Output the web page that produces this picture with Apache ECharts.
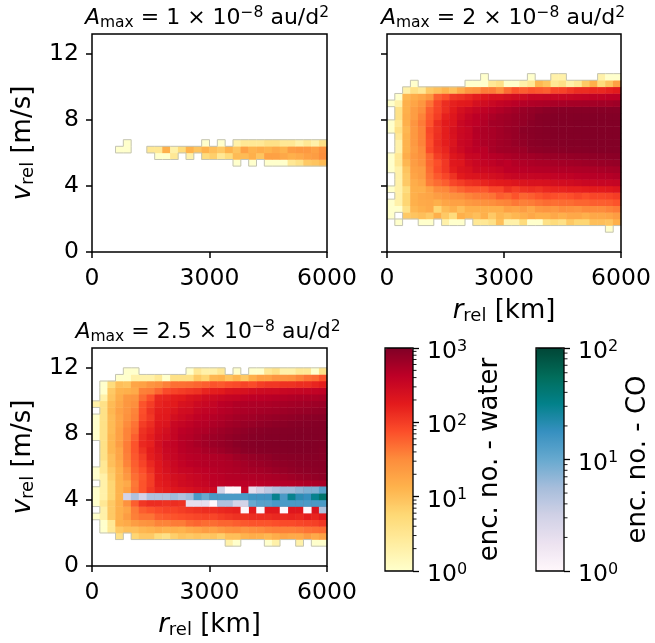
<!DOCTYPE html>
<html><head><meta charset="utf-8">
<style>html,body{margin:0;padding:0;background:#fff}#c{width:655px;height:643px}</style>
<script src="https://cdn.jsdelivr.net/npm/echarts@6/dist/echarts.min.js"></script>
</head><body><div id="c"></div>
<script>
// Tick labels / bins
const rTicks = [0, 3000, 6000];
const vTicks = [0, 4, 8, 12];
const rMax = 6000, vMax = 13.2, nCols = 30, nRows = 33;
const waterBarMajor = [1, 10, 100, 1000];
const waterBarMinor = [2,3,4,5,6,7,8,9,20,30,40,50,60,70,80,90,200,300,400,500,600,700,800,900];
const coBarMajor = [1, 10, 100];
const coBarMinor = [2,3,4,5,6,7,8,9,20,30,40,50,60,70,80,90];
// colour ramps
const waterRamp = ['#ffffcc','#ffeda0','#fed976','#feb24c','#fd8d3c','#fc4e2a','#e31a1c','#bd0026','#800026'];
const coRamp = ['#fff7fb','#ece2f0','#d0d1e6','#a6bddb','#67a9cf','#3690c0','#02818a','#016c59','#014636'];

// Encounter counts per cell; each list is a row of 30 r bins, first listed row = lowest v bin
const water1Start = 13;
const water1 = [
 [0,0,0,0,0,0,0,0,0,0,0,0,0,0,0,0,0,0,1,0,1,0,1,1,1,3,4,8,9,11],
 [0,0,0,0,0,0,0,0,1,1,3,0,2,0,5,7,3,5,11,11,14,9,20,20,17,14,16,20,22,30],
 [0,0,0,1,1,0,0,3,3,14,2,5,13,9,13,10,8,13,9,20,13,15,13,16,13,22,24,24,20,28],
 [0,0,0,0,1,0,0,0,0,0,0,0,0,0,1,0,1,0,2,3,3,3,4,4,3,3,2,3,2,4]
];
const water2Start = 3;
const water2 = [
 [0,0,0,0,0,0,0,0,0,0,0,0,0,0,0,0,0,0,0,0,0,0,0,0,0,0,0,0,1,0],
 [0,1,0,0,1,1,0,2,1,1,0,3,3,4,10,2,2,5,1,1,4,5,4,8,6,6,10,10,9,14],
 [1,0,8,9,10,8,14,8,5,14,12,10,14,8,12,10,12,14,17,14,14,17,14,17,17,14,17,17,18,22],
 [1,1,4,12,14,16,6,11,14,10,14,14,14,14,14,20,18,22,17,24,26,24,30,28,26,32,32,32,36,40],
 [1,2,6,14,16,17,14,18,20,20,24,26,28,30,34,36,42,38,40,45,50,48,50,50,55,55,60,60,62,70],
 [0,2,6,14,17,18,22,25,28,30,36,40,42,45,60,55,70,55,60,70,80,75,70,75,85,75,85,85,90,100],
 [1,2,5,14,14,20,32,34,45,55,65,65,65,85,85,120,100,120,130,120,140,150,150,160,160,170,180,180,190,210],
 [0,2,8,15,18,40,50,60,85,100,120,130,150,170,180,190,210,220,230,230,240,260,270,280,300,320,330,340,340,360],
 [0,2,8,18,22,45,65,85,120,180,210,220,240,260,280,320,340,350,350,360,370,380,390,400,430,440,450,460,470,500],
 [1,2,9,20,22,50,80,110,170,220,240,300,310,330,360,420,430,440,460,470,480,490,500,510,520,530,540,560,580,600],
 [1,3,12,22,28,55,75,110,190,200,280,330,370,400,450,420,480,500,530,550,560,580,600,620,640,660,680,700,720,740],
 [1,3,15,24,30,55,100,130,200,240,330,340,420,450,480,520,560,600,620,650,680,700,720,740,760,780,800,820,840,860],
 [0,2,13,22,32,80,120,150,240,300,380,430,440,560,620,640,650,680,800,820,840,860,880,900,910,920,930,940,950,950],
 [0,2,13,24,36,75,130,170,220,320,360,450,520,560,620,650,720,780,860,880,900,920,930,940,950,960,960,960,960,960],
 [0,3,13,24,36,80,125,170,230,315,355,460,525,560,620,665,720,815,870,900,920,940,950,960,960,970,970,970,970,970],
 [1,4,12,24,36,85,120,170,240,310,350,470,530,560,620,680,720,850,880,900,930,950,960,960,970,970,970,970,970,970],
 [1,3,14,26,40,70,130,180,210,320,380,420,500,600,620,660,700,760,850,900,930,950,960,960,970,970,970,970,970,970],
 [0,4,15,22,36,65,100,160,200,280,360,430,460,540,600,640,680,740,800,900,920,940,950,950,960,960,960,960,960,960],
 [0,4,14,22,30,60,90,130,180,250,300,350,400,450,500,560,620,700,750,800,850,880,900,900,900,900,900,900,900,900],
 [1,2,14,18,25,45,85,130,160,180,190,250,280,320,370,400,440,470,500,520,540,560,570,580,590,600,600,620,620,650],
 [0,1,12,15,18,25,60,75,110,120,140,170,200,230,230,260,280,290,340,340,360,340,340,350,370,380,400,400,420,430],
 [0,0,2,4,3,8,10,13,10,16,25,28,40,40,30,50,70,60,70,65,60,85,90,110,130,130,140,140,160,180],
 [0,0,0,1,0,0,0,0,0,0,1,1,1,3,4,1,1,2,3,12,9,3,4,2,3,8,14,5,9,20],
 [0,0,0,0,0,0,0,0,0,0,0,0,1,0,0,0,0,0,1,0,0,2,2,0,0,0,0,2,1,1]
];
const water3Start = 3;
const water3 = [
 [0,0,0,0,0,0,0,0,0,0,0,0,0,0,0,0,0,2,1,0,0,0,1,2,0,0,2,0,1,1],
 [0,0,0,4,0,6,8,8,5,4,7,9,8,9,8,9,7,10,10,13,15,14,12,15,18,16,16,22,16,20],
 [0,1,3,8,10,10,12,13,15,13,14,13,16,18,22,20,24,28,30,26,30,32,36,38,38,38,40,45,48,50],
 [0,1,3,14,16,22,26,28,36,36,40,40,50,55,50,50,55,55,60,65,70,70,70,75,80,80,85,90,95,110],
 [1,2,8,14,22,38,45,45,60,65,70,75,80,85,90,85,100,110,120,120,130,130,130,140,140,150,140,170,150,190],
 [0,2,8,14,18,40,60,70,80,90,90,100,110,120,130,130,140,150,160,170,180,180,190,190,195,200,200,210,220,230],
 [1,3,8,14,28,60,110,130,130,120,130,120,150,160,170,180,190,200,210,220,230,240,250,260,270,280,290,300,310,320],
 [1,2,6,13,20,60,90,120,150,170,180,200,220,240,260,270,280,290,300,310,320,330,340,350,360,370,380,390,400,410],
 [1,2,6,13,20,45,70,110,150,170,200,220,240,270,290,300,310,320,330,340,350,360,370,380,390,400,410,420,430,440],
 [0,2,6,13,16,42,70,100,170,190,240,280,300,330,350,400,400,420,420,430,430,440,450,460,470,480,500,520,540,560],
 [1,2,7,14,24,48,65,100,180,210,260,280,320,340,380,420,440,470,480,500,500,520,540,560,600,640,680,720,760,800],
 [1,3,8,14,28,55,75,120,190,240,300,340,360,400,420,450,480,500,520,560,580,600,640,680,720,760,800,820,840,860],
 [0,3,10,16,36,60,90,140,200,260,320,380,430,450,470,490,500,520,560,600,650,680,720,760,800,820,850,870,880,880],
 [0,4,10,18,38,65,100,170,220,300,340,400,440,460,480,500,520,560,640,680,720,760,800,850,870,880,890,900,900,880],
 [0,4,12,18,40,70,120,180,240,320,360,440,480,500,560,600,650,720,780,850,880,900,920,930,950,960,960,960,950,900],
 [0,4,12,22,40,70,140,160,260,340,380,450,500,560,620,680,720,780,850,900,920,940,950,960,970,970,970,970,960,950],
 [1,4,12,20,36,60,130,170,240,280,360,450,480,540,600,660,700,760,820,860,900,920,940,950,960,970,970,970,970,960],
 [1,4,11,20,36,50,120,150,220,260,350,420,450,500,520,600,650,700,750,800,850,880,900,920,940,950,960,960,960,960],
 [1,4,11,18,32,45,100,130,200,220,320,360,400,450,470,520,560,620,650,700,720,760,800,830,860,890,900,920,930,950],
 [1,4,11,18,28,38,80,110,180,190,260,300,340,400,430,470,510,550,600,620,640,680,700,730,760,790,820,850,870,880],
 [0,4,12,20,26,36,75,120,170,180,220,270,280,340,380,400,450,480,520,540,560,580,600,620,650,680,700,720,750,780],
 [2,4,11,17,25,30,70,100,150,170,180,230,250,300,330,360,430,450,500,510,520,530,540,560,580,600,620,640,660,680],
 [0,2,9,15,24,26,50,75,140,150,170,180,220,240,280,300,330,360,370,400,420,430,440,460,480,500,520,530,540,560],
 [0,1,8,13,14,16,38,40,55,80,90,100,110,120,150,170,180,220,230,240,270,290,300,300,330,340,350,360,380,400],
 [0,1,5,10,9,18,20,26,30,38,48,48,50,55,60,70,65,75,80,90,80,100,110,110,120,120,130,130,150,170],
 [0,0,0,1,1,2,2,2,3,1,4,4,4,8,6,12,13,9,12,8,14,20,20,26,26,28,36,45,50,70],
 [0,0,0,0,1,1,0,0,0,0,0,0,1,3,2,2,3,0,1,0,1,1,3,4,2,2,3,3,1,4]
];
const co3Start = 8;
const co3 = [
 [0,0,0,0,0,0,0,0,0,0,0,0,0,0,0,0,0,0,0,1,0,1,0,0,1,0,0,1,0,5],
 [0,0,0,0,0,0,0,0,0,0,0,0,2,2,2,1,5,5,3,3,10,12,12,14,14,14,14,14,14,14],
 [0,0,0,0,3,5,3,5,5,5,6,5,6,14,10,14,14,14,14,14,16,16,16,30,14,30,20,18,30,45],
 [0,0,0,0,0,0,0,0,0,0,0,0,0,0,0,0,3,1,1,0,2,3,4,5,6,6,7,8,8,12]
];

const FONT = 'DejaVu Sans';
const LBL = 23.5;
const NAME = 26;
const toCells = (rows, start) => {
  const out = [];
  rows.forEach((row, i) => row.forEach((v, c) => { if (v > 0) out.push([c, start + i, Math.log10(v)]); }));
  return out;
};
const colNames = Array.from({length: nCols}, (_, i) => String(i));
const rowNames = Array.from({length: nRows}, (_, i) => String(i));

const PANELS = [
  {left: 92,  top: 34,  width: 235, height: 218, rows: water1, start: water1Start, yLabels: true,  xName: false},
  {left: 387, top: 34,  width: 234, height: 218, rows: water2, start: water2Start, yLabels: false, xName: true},
  {left: 92,  top: 348, width: 235, height: 218, rows: water3, start: water3Start, yLabels: true,  xName: true}
];
const richName = {
  i: {fontFamily: FONT, fontStyle: 'italic', fontSize: NAME, color: '#000'},
  s: {fontFamily: FONT, fontSize: 18, color: '#000', padding: [9, 0, 0, 0]},
  t: {fontFamily: FONT, fontSize: NAME, color: '#000'}
};
const grids = [], xAxes = [], yAxes = [], series = [];
PANELS.forEach((p, k) => {
  grids.push({left: p.left, top: p.top, width: p.width, height: p.height, show: true, z: 10,
    backgroundColor: 'transparent', borderColor: '#000', borderWidth: 1.5});
  xAxes.push({type: 'category', gridIndex: k, data: colNames, show: false});
  yAxes.push({type: 'category', gridIndex: k, data: rowNames, show: false});
  xAxes.push({type: 'value', gridIndex: k, min: 0, max: rMax, position: 'bottom', z: 12,
    name: p.xName ? '{i|r}{s|rel}{t| [km]}' : '', nameLocation: 'middle', nameGap: 46,
    nameTextStyle: {rich: richName},
    axisLine: {show: false, onZero: false}, splitLine: {show: false},
    axisTick: {show: true, length: 6, customValues: rTicks, lineStyle: {color: '#000', width: 1.5}},
    axisLabel: {show: true, customValues: rTicks, formatter: v => String(v), fontFamily: FONT, fontSize: LBL, color: '#000', margin: 15}});
  yAxes.push({type: 'value', gridIndex: k, min: 0, max: vMax, position: 'left', z: 12,
    name: p.yLabels ? '{i|v}{s|rel}{t| [m/s]}' : '', nameLocation: 'middle', nameGap: 55, nameRotate: 90,
    nameTextStyle: {rich: richName},
    axisLine: {show: false, onZero: false}, splitLine: {show: false},
    axisTick: {show: true, length: 6, customValues: vTicks, lineStyle: {color: '#000', width: 1.5}},
    axisLabel: {show: p.yLabels, customValues: vTicks, fontFamily: FONT, fontSize: LBL, color: '#000', margin: 13, padding: [6, 0, 0, 0]}});
});
const cellAxes = k => ({xAxisIndex: 2 * k, yAxisIndex: 2 * k});
PANELS.forEach((p, k) => {
  series.push(Object.assign({type: 'heatmap', name: 'water' + (k + 1), data: toCells(p.rows, p.start),
    z: 3, emphasis: {disabled: true}, progressive: 0, animation: false}, cellAxes(k)));
});
series.push(Object.assign({type: 'heatmap', name: 'co', data: toCells(co3, co3Start),
  z: 4, emphasis: {disabled: true}, progressive: 0, animation: false}, cellAxes(2)));
// grey outline round the occupied cells
PANELS.forEach((p, k) => {
  const cells = toCells(p.rows, p.start);
  const filled = new Set(cells.map(c => c[0] + ',' + c[1]));
  series.push(Object.assign({type: 'custom', name: 'outline' + (k + 1), data: cells, z: 5, silent: true, animation: false,
    encode: {x: 0, y: 1}, clip: false,
    renderItem(params, api) {
      const c = api.value(0), r = api.value(1);
      const pt = api.coord([c, r]), sz = api.size([1, 1]);
      const x0 = pt[0] - sz[0] / 2, x1 = pt[0] + sz[0] / 2, y0 = pt[1] - sz[1] / 2, y1 = pt[1] + sz[1] / 2;
      const st = {stroke: '#c4c4b4', lineWidth: 1, fill: null};
      const seg = (a, b, d, e) => ({type: 'line', shape: {x1: a, y1: b, x2: d, y2: e}, style: st});
      const ch = [];
      if (!filled.has(c + ',' + (r + 1))) ch.push(seg(x0, y0, x1, y0));
      if (!filled.has(c + ',' + (r - 1))) ch.push(seg(x0, y1, x1, y1));
      if (c > 0 && !filled.has((c - 1) + ',' + r)) ch.push(seg(x0, y0, x0, y1));
      if (c < nCols - 1 && !filled.has((c + 1) + ',' + r)) ch.push(seg(x1, y0, x1, y1));
      return {type: 'group', children: ch};
    }}, cellAxes(k)));
});

// colour bars: gradient from visualMap, ticks from log axes
const BARS = [
  {left: 385, top: 348, width: 28, height: 223, max: 1000, major: waterBarMajor, minor: waterBarMinor, name: 'enc. no. - water', gap: 64},
  {left: 536, top: 348, width: 28, height: 223, max: 100, major: coBarMajor, minor: coBarMinor, name: 'enc. no. - CO', gap: 61}
];
const barStart = grids.length, axisStartX = xAxes.length, axisStartY = yAxes.length;
BARS.forEach((b, k) => {
  grids.push({left: b.left, top: b.top, width: b.width, height: b.height, show: true, z: 10,
    backgroundColor: 'transparent', borderColor: '#000', borderWidth: 1.3});
  xAxes.push({type: 'value', gridIndex: barStart + k, min: 0, max: 1, show: false});
  yAxes.push({type: 'log', logBase: 10, gridIndex: barStart + k, min: 1, max: b.max, position: 'right', z: 12,
    name: b.name, nameLocation: 'middle', nameRotate: 90, nameGap: b.gap,
    nameTextStyle: {fontFamily: FONT, fontSize: NAME, color: '#000'},
    axisLine: {show: false, onZero: false}, splitLine: {show: false}, minorTick: {show: false},
    axisTick: {show: true, length: 6, lineStyle: {color: '#000', width: 1.3}},
    axisLabel: {show: true, margin: 14, color: '#000', padding: [8, 0, 0, 0],
      formatter: v => '{b|10}{u|' + Math.round(Math.log10(v)) + '}',
      rich: {b: {fontFamily: FONT, fontSize: LBL, color: '#000'},
             u: {fontFamily: FONT, fontSize: 16, color: '#000', padding: [0, 0, 11, 0]}}}});
  series.push({type: 'custom', name: 'minor' + k, xAxisIndex: axisStartX + k, yAxisIndex: axisStartY + k,
    data: b.minor.map(m => [1, m]), encode: {x: 0, y: 1}, silent: true, clip: false, z: 11, animation: false,
    renderItem(params, api) {
      const pt = api.coord([1, api.value(1)]);
      return {type: 'line', shape: {x1: pt[0], y1: pt[1], x2: pt[0] + 3.5, y2: pt[1]},
        style: {stroke: '#000', lineWidth: 0.9}};
    }});
});

const titleRich = {
  i: {fontFamily: FONT, fontStyle: 'italic', fontWeight: 'normal', fontSize: 22, color: '#000'},
  s: {fontFamily: FONT, fontWeight: 'normal', fontSize: 15.5, color: '#000', padding: [8, 0, 0, 0]},
  t: {fontFamily: FONT, fontWeight: 'normal', fontSize: 22, color: '#000'},
  u: {fontFamily: FONT, fontWeight: 'normal', fontSize: 15.5, color: '#000', padding: [0, 0, 11, 0]}
};
const titleFor = (a, x, y) => ({
  text: '{i|A}{s|max}{t| = ' + a + ' × 10}{u|−8}{t| au/d}{u|2}',
  left: x, top: y, textAlign: 'center', padding: 0, textStyle: {fontWeight: 'normal', rich: titleRich}
});

const chart = echarts.init(document.getElementById('c'), null, {renderer: 'canvas'});
chart.setOption({
  animation: false,
  backgroundColor: '#fff',
  title: [titleFor('1', 207, 5), titleFor('2', 503, 5), titleFor('2.5', 208, 319)],
  grid: grids, xAxis: xAxes, yAxis: yAxes, series,
  visualMap: [
    {type: 'continuous', min: 0, max: 3, dimension: 2, seriesIndex: [0, 1, 2], inRange: {color: waterRamp},
     show: true, calculable: false, hoverLink: false, realtime: false, left: BARS[0].left, top: BARS[0].top,
     itemWidth: BARS[0].width, itemHeight: BARS[0].height, padding: 0, text: null, showLabel: false, z: 5},
    {type: 'continuous', min: 0, max: 2, dimension: 2, seriesIndex: [3], inRange: {color: coRamp},
     show: true, calculable: false, hoverLink: false, realtime: false, left: BARS[1].left, top: BARS[1].top,
     itemWidth: BARS[1].width, itemHeight: BARS[1].height, padding: 0, text: null, showLabel: false, z: 5}
  ]
});
</script></body></html>
